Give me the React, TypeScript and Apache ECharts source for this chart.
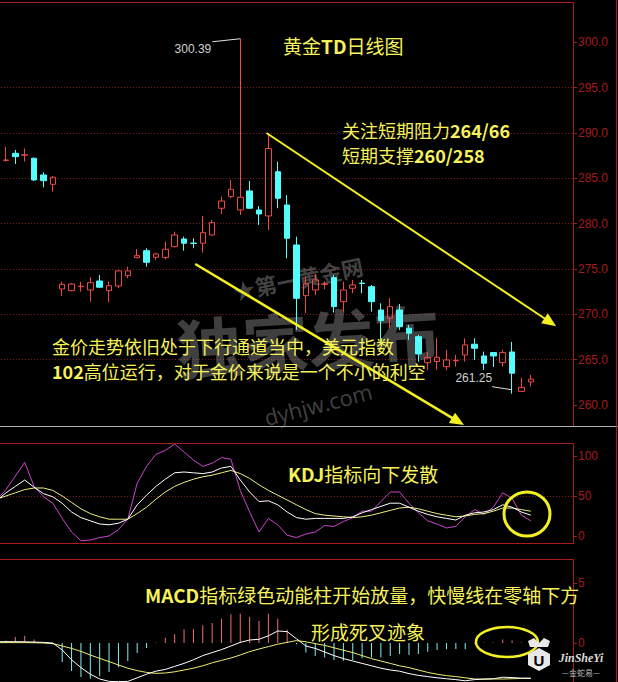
import React, { useEffect, useRef } from "react";
import * as echarts from "echarts";

// ---------- data ----------
// 62 daily slots: 58 candles + 4 empty slots on the right
const categories: string[] = Array.from({ length: 62 }, (_, i) => `D${i + 1}`);

// [open, close, low, high]
const candles: number[][] = [
  [285.1, 286.8, 284.9, 287.1],
  [286.98, 287.02, 286.84, 288.49],
  [287.76, 287.39, 286.58, 288.13],
  [287.55, 287.6, 286.85, 288.3],
  [287.21, 284.82, 284.7, 287.3],
  [285.37, 284.74, 284.01, 285.67],
  [284.34, 285.12, 283.53, 285.26],
  [272.8, 273.32, 272.03, 273.61],
  [272.61, 273.35, 272.55, 273.45],
  [273.05, 273.1, 272.5, 273.6],
  [272.69, 273.49, 271.4, 274.09],
  [273.68, 272.99, 272.95, 274.34],
  [272.61, 273.16, 271.33, 273.61],
  [273.13, 274.79, 272.88, 274.85],
  [274.27, 274.79, 273.98, 275.26],
  [276.25, 276.47, 276.2, 277.21],
  [277.02, 275.74, 275.26, 277.29],
  [276.3, 276.66, 276.0, 276.8],
  [276.25, 277.18, 276.07, 278.02],
  [277.46, 278.75, 277.4, 279.12],
  [278.31, 277.84, 277.02, 278.57],
  [277.86, 277.82, 277.29, 278.39],
  [277.84, 279.01, 276.8, 280.85],
  [278.75, 280.11, 278.7, 280.41],
  [281.7, 282.5, 281.07, 282.98],
  [282.98, 283.79, 282.8, 284.82],
  [281.51, 282.91, 280.96, 300.39],
  [283.61, 281.7, 281.65, 284.71],
  [281.51, 281.07, 279.86, 281.95],
  [280.85, 288.29, 279.3, 289.78],
  [285.73, 282.8, 281.7, 286.84],
  [282.06, 278.39, 276.18, 283.16],
  [277.65, 271.77, 268.28, 278.57],
  [272.06, 273.35, 270.12, 274.16],
  [272.69, 273.79, 272.14, 274.45],
  [273.3, 273.35, 272.77, 273.61],
  [274.05, 270.85, 270.19, 274.34],
  [271.4, 272.69, 270.3, 273.61],
  [272.88, 273.24, 272.33, 273.79],
  [273.45, 273.4, 272.33, 273.79],
  [273.05, 271.4, 270.3, 273.24],
  [270.48, 269.31, 266.81, 271.22],
  [269.57, 270.85, 268.47, 271.77],
  [270.48, 268.64, 268.28, 271.15],
  [268.47, 267.92, 267.18, 268.83],
  [267.54, 265.63, 264.79, 267.73],
  [264.67, 265.23, 263.87, 265.89],
  [264.79, 265.27, 263.87, 267.36],
  [264.23, 264.97, 263.87, 266.08],
  [264.88, 264.92, 264.23, 265.52],
  [265.52, 266.63, 264.79, 267.36],
  [266.7, 266.26, 264.97, 267.36],
  [265.41, 264.61, 263.87, 265.89],
  [265.78, 265.41, 264.2, 265.85],
  [264.67, 265.78, 264.23, 266.08],
  [265.85, 263.51, 261.25, 266.96],
  [261.5, 261.95, 261.45, 262.99],
  [262.55, 262.85, 262.03, 263.32],
];

const kLine = [44, 54, 62, 70, 61, 53, 49, 41, 30, 23, 19, 15, 14, 16, 21, 39, 51, 62, 71, 79, 80, 79, 78, 80, 85, 87, 70, 55, 43, 44, 39, 30, 23, 21, 22, 22, 22, 22, 24, 29, 33, 37, 41, 41, 36, 31, 27, 24, 22, 20, 26, 29, 30, 33, 39, 36, 30, 26];
const dLine = [46, 50, 54, 58, 60, 60, 57, 50, 42, 34, 28, 24, 21, 21, 21, 28, 36, 46, 55, 62, 67, 71, 74, 76, 79, 82, 78, 72, 64, 57, 51, 45, 39, 33, 28, 26, 25, 24, 23, 24, 26, 29, 32, 35, 36, 34, 31, 28, 26, 24, 25, 27, 28, 31, 35, 35, 33, 31];
const jLine = [45, 58, 75, 92, 62, 49, 41, 22, 5, -6, -5, -2, 0, 8, 21, 66, 87, 102, 107, 115, 105, 95, 87, 91, 98, 96, 57, 30, 5, 22, 14, 1, -2, 2.5, 5, 13, 12, 18, 23, 31, 31, 43, 55, 55, 41, 29, 19, 15, 10, 12, 24, 33, 27, 36, 54, 47, 26, 19];

const macdHist = [0.1, 0.2, 0.5, 0.6, 0.3, 0.05, -0.1, -1.58, -2.33, -2.83, -2.97, -2.78, -2.42, -2.0, -1.5, -0.83, -0.42, 0.05, 0.44, 0.72, 1.14, 1.17, 1.47, 1.67, 2.03, 2.39, 2.44, 2.17, 1.83, 2.44, 2.03, 1.11, -0.1, -0.8, -1.08, -1.2, -1.42, -1.47, -1.42, -1.28, -1.2, -1.2, -1.08, -0.92, -1.0, -0.92, -0.72, -0.58, -0.53, -0.5, -0.53, -0.05, 0.05, 0.05, 0.3, 0.2, 0.05, 0.05];
const difLine = [0.11, 0.11, 0.11, 0.1, 0.08, 0.05, 0.0, -0.58, -1.4, -2.05, -2.6, -3.0, -3.2, -3.22, -3.2, -2.9, -2.6, -2.35, -2.2, -1.95, -1.7, -1.4, -1.05, -0.8, -0.55, -0.25, 0.05, 0.25, 0.31, 0.6, 1.0, 0.95, 0.35, -0.25, -0.45, -0.75, -1.05, -1.3, -1.5, -1.7, -1.9, -2.1, -2.25, -2.35, -2.55, -2.7, -2.8, -2.9, -2.98, -3.05, -3.15, -3.05, -3.0, -2.98, -2.85, -2.88, -2.93, -2.93];
const deaLine = [0.03, 0.03, 0.03, 0.03, 0.02, 0.0, -0.05, -0.25, -0.45, -0.7, -1.0, -1.28, -1.55, -1.83, -2.1, -2.3, -2.45, -2.53, -2.5, -2.4, -2.25, -2.1, -1.9, -1.65, -1.45, -1.25, -1.0, -0.72, -0.5, -0.3, -0.1, 0.05, 0.2, 0.1, -0.05, -0.2, -0.4, -0.6, -0.8, -1.05, -1.3, -1.5, -1.7, -1.9, -2.05, -2.25, -2.45, -2.6, -2.72, -2.8, -2.9, -3.0, -3.02, -3.0, -3.0, -2.98, -2.95, -2.95];

const priceTicks = [260, 265, 270, 275, 280, 285, 290, 295, 300];
const kdjTicks = [0, 50, 100];
const macdTicks = [0, 5];

// annotation anchors in data space: [slot index, value]
const highMark = { index: 26, value: 300.39, label: "300.39" };
const lowMark = { index: 55, value: 261.25, label: "261.25" };
const upperArrow = [[28.8, 290.0], [59.7, 268.7]];
const lowerArrow = [[21.2, 275.55], [49.87, 257.8]];
const kdjCircle = [56.59, 27.5];
const macdCircle = [54.45, 0.08];

// ---------- style ----------
const RED = "#ee4848";
const CYAN = "#54fcfc";
const FRAME = "#a81c1c";
const LABEL = "#a51a1c";
const DOT = "#842020";
const TXT = "#f6f25a";
const YEL = "#f4f020";
const CJK = '"Noto Sans CJK SC", "Noto Sans", sans-serif';
const LAT = '"Liberation Sans", Arial, sans-serif';

// the chart canvas starts OFF px left of the page so the first candle is cut
const OFF = 9;
const X = (x: number) => x + OFF;
const GL = -8.1 + OFF;
const GW = 581.1;

export default function App() {
  const ref = useRef<HTMLDivElement>(null);

  useEffect(() => {
    if (!ref.current) return;
    const chart = echarts.init(ref.current, undefined, { renderer: "svg" });

    const xAxisBase = (gi: number) => ({
      type: "category",
      gridIndex: gi,
      data: categories,
      boundaryGap: true,
      axisLine: { show: false },
      axisTick: { show: false },
      axisLabel: { show: false },
      splitLine: { show: false },
    });

    const yAxisBase = (gi: number, min: number, max: number, interval: number, ticks: number[], fmt: (v: number) => string, pad: number[]) => ({
      type: "value",
      gridIndex: gi,
      position: "right",
      min,
      max,
      interval,
      axisLine: { show: false },
      axisTick: { show: true, length: 4, customValues: ticks, lineStyle: { color: FRAME, width: 1 } },
      axisLabel: {
        customValues: ticks,
        formatter: fmt,
        color: LABEL,
        fontSize: 12,
        fontFamily: LAT,
        margin: 5,
        padding: pad,
      },
      splitLine: {
        show: true,
        showMinLine: false,
        showMaxLine: false,
        lineStyle: { color: DOT, type: [1, 2], width: 1 },
      },
    });

    chart.setOption({
      animation: false,
      backgroundColor: "#000000",
      grid: [
        { left: GL, width: GW, top: -3.04, height: 453.4, outerBoundsMode: "none" },
        { left: GL, width: GW, top: 416, height: 160, outerBoundsMode: "none" },
        { left: GL, width: GW, top: 523, height: 180, outerBoundsMode: "none" },
      ],
      xAxis: [xAxisBase(0), xAxisBase(1), xAxisBase(2)],
      yAxis: [
        yAxisBase(0, 255, 305, 5, priceTicks, (v: number) => v.toFixed(1), [0, 0, 0, 0]),
        yAxisBase(1, -50, 150, 50, kdjTicks, (v: number) => `${v}`, [5, 0, 0, 0]),
        yAxisBase(2, -5, 10, 5, macdTicks, (v: number) => `${v}`, [0, 0, 0, 0]),
      ],
      series: [
        {
          type: "candlestick",
          xAxisIndex: 0,
          yAxisIndex: 0,
          data: candles,
          barWidth: 6,
          silent: true,
          itemStyle: {
            color: "transparent",
            color0: CYAN,
            borderColor: RED,
            borderColor0: CYAN,
            borderWidth: 1,
          },
        },
        { type: "line", xAxisIndex: 1, yAxisIndex: 1, data: jLine, showSymbol: false, silent: true, lineStyle: { color: "#cc44cc", width: 1 } },
        { type: "line", xAxisIndex: 1, yAxisIndex: 1, data: dLine, showSymbol: false, silent: true, lineStyle: { color: "#eeee80", width: 1 } },
        { type: "line", xAxisIndex: 1, yAxisIndex: 1, data: kLine, showSymbol: false, silent: true, lineStyle: { color: "#ffffff", width: 1 } },
        {
          type: "bar",
          xAxisIndex: 2,
          yAxisIndex: 2,
          data: macdHist,
          barWidth: 1,
          silent: true,
          itemStyle: { color: (p: any) => (p.value >= 0 ? "#f07070" : "#7ef0f0") },
        },
        { type: "line", xAxisIndex: 2, yAxisIndex: 2, data: deaLine, showSymbol: false, silent: true, z: 3, lineStyle: { color: "#eeee70", width: 1 } },
        { type: "line", xAxisIndex: 2, yAxisIndex: 2, data: difLine, showSymbol: false, silent: true, z: 3, lineStyle: { color: "#ffffff", width: 1 } },
      ],
    });

    const px = (gi: number, i: number, v: number): number[] => {
      const i0 = Math.floor(i);
      const a = chart.convertToPixel({ gridIndex: gi }, [i0, v]) as number[];
      const b = chart.convertToPixel({ gridIndex: gi }, [i0 + 1, v]) as number[];
      return [a[0] + (b[0] - a[0]) * (i - i0), a[1]];
    };

    const ln = (x1: number, y1: number, x2: number, y2: number, stroke: string, lw = 1, z = 50) => ({
      type: "line",
      silent: true,
      z,
      shape: { x1, y1, x2, y2 },
      style: { stroke, lineWidth: lw },
    });

    const arrow = (p0: number[], p1: number[], lw: number, headLen: number, headHalf: number) => {
      const dx = p1[0] - p0[0];
      const dy = p1[1] - p0[1];
      const len = Math.hypot(dx, dy);
      const ux = dx / len;
      const uy = dy / len;
      const bx = p1[0] - ux * headLen;
      const by = p1[1] - uy * headLen;
      const nx = -uy;
      const ny = ux;
      return [
        ln(p0[0], p0[1], bx + ux * 2, by + uy * 2, YEL, lw, 70),
        {
          type: "polygon",
          silent: true,
          z: 70,
          shape: { points: [[p1[0], p1[1]], [bx + nx * headHalf, by + ny * headHalf], [bx - nx * headHalf, by - ny * headHalf]] },
          style: { fill: YEL },
        },
      ];
    };

    const txt = (x: number, y: number, text: string, size = 18) => ({
      type: "text",
      silent: true,
      z: 80,
      x: X(x),
      y,
      style: {
        text,
        fill: TXT,
        fontSize: size,
        fontFamily: CJK,
        lineHeight: 19,
        align: "left",
        verticalAlign: "middle",
        rich: { b: { fontWeight: "bold", fontSize: size, fontFamily: CJK, fill: TXT, lineHeight: 19 } },
      },
    });

    const hp = px(0, highMark.index, highMark.value);
    const lp = px(0, lowMark.index, lowMark.value);
    const ua0 = px(0, upperArrow[0][0], upperArrow[0][1]);
    const ua1 = px(0, upperArrow[1][0], upperArrow[1][1]);
    const la0 = px(0, lowerArrow[0][0], lowerArrow[0][1]);
    const la1 = px(0, lowerArrow[1][0], lowerArrow[1][1]);
    const kc = px(1, kdjCircle[0], kdjCircle[1]);
    const mc = px(2, macdCircle[0], macdCircle[1]);

    const graphic: any[] = [
      // watermarks
      {
        type: "text", silent: true, z: 1, x: X(308), y: 338, rotation: 0.06,
        style: { text: "独家发布", fill: "rgba(150,150,150,0.42)", fontSize: 66, fontWeight: "bold", fontFamily: CJK, align: "center", verticalAlign: "middle" },
      },
      {
        type: "text", silent: true, z: 1, x: X(298), y: 278, rotation: 0.2,
        style: { text: "★第一黄金网", fill: "rgba(150,150,150,0.45)", fontSize: 22, fontWeight: "bold", fontFamily: CJK, align: "center", verticalAlign: "middle" },
      },
      {
        type: "text", silent: true, z: 1, x: X(318), y: 404, rotation: 0.25,
        style: { text: "dyhjw.com", fill: "rgba(150,150,150,0.45)", fontSize: 22, fontFamily: '"Open Sans", sans-serif', align: "center", verticalAlign: "middle" },
      },
      // panel frames
      ln(X(0), 2.5, X(573.5), 2.5, FRAME),
      ln(X(573.5), 2.5, X(573.5), 426, FRAME),
      ln(X(0), 426.5, X(618), 426.5, "#b4b4b4"),
      ln(X(0), 443.5, X(573.5), 443.5, FRAME),
      ln(X(573.5), 443.5, X(573.5), 543.5, FRAME),
      ln(X(0), 543.5, X(573.5), 543.5, FRAME),
      ln(X(0), 559.5, X(573.5), 559.5, FRAME),
      ln(X(573.5), 559.5, X(573.5), 682, FRAME),
      ln(X(616.5), 0, X(616.5), 682, FRAME),
      // high / low callouts
      ln(hp[0] - 28, hp[1] + 3, hp[0], hp[1], "#e0e0e0", 1, 60),
      {
        type: "text", silent: true, z: 60, x: hp[0] - 29, y: hp[1] + 10,
        style: { text: highMark.label, fill: "#d0d0d0", fontSize: 12, fontFamily: LAT, align: "right", verticalAlign: "middle" },
      },
      ln(lp[0] - 20, lp[1] - 7, lp[0] - 1, lp[1] - 4, "#e0e0e0", 1, 60),
      {
        type: "text", silent: true, z: 60, x: lp[0] - 20, y: lp[1] - 16,
        style: { text: lowMark.label, fill: "#d0d0d0", fontSize: 12, fontFamily: LAT, align: "right", verticalAlign: "middle" },
      },
      // arrows
      ...arrow(ua0, ua1, 2, 14, 6),
      ...arrow(la0, la1, 2.5, 14, 6),
      // ellipses
      { type: "ellipse", silent: true, z: 70, shape: { cx: kc[0], cy: kc[1], rx: 23, ry: 22 }, style: { fill: "none", stroke: YEL, lineWidth: 3 } },
      { type: "ellipse", silent: true, z: 70, shape: { cx: mc[0], cy: mc[1], rx: 31, ry: 15 }, style: { fill: "none", stroke: YEL, lineWidth: 2.5 } },
      // texts
      txt(283, 45, "黄金{b|TD}日线图", 19),
      txt(342, 130, "关注短期阻力{b|264/66}"),
      txt(342, 155, "短期支撑{b|260/258}"),
      txt(52, 346, "金价走势依旧处于下行通道当中，美元指数"),
      txt(52, 371, "{b|102}高位运行，对于金价来说是一个不小的利空"),
      txt(288, 473, "{b|KDJ}指标向下发散", 19),
      txt(145, 594, "{b|MACD}指标绿色动能柱开始放量，快慢线在零轴下方", 19),
      txt(311, 631, "形成死叉迹象", 19),
      // logo
      {
        type: "polygon", silent: true, z: 90,
        shape: { points: [[X(528), 641], [X(534), 638], [X(539), 643], [X(544), 638], [X(550), 641], [X(548), 647], [X(530), 647]] },
        style: { fill: "#e8e8e8" },
      },
      {
        type: "polygon", silent: true, z: 90,
        shape: { points: [[X(539), 648], [X(550), 654], [X(550), 665], [X(539), 671], [X(528), 665], [X(528), 654]] },
        style: { fill: "#e8e8e8" },
      },
      {
        type: "text", silent: true, z: 91, x: X(539), y: 660,
        style: { text: "U", fill: "#000000", fontSize: 15, fontWeight: "bold", fontFamily: LAT, align: "center", verticalAlign: "middle" },
      },
      {
        type: "text", silent: true, z: 90, x: X(581), y: 658,
        style: { text: "JinSheYi", fill: "#d8d8d8", fontSize: 12, fontStyle: "italic", fontWeight: "bold", fontFamily: '"Liberation Serif", serif', align: "center", verticalAlign: "middle" },
      },
      {
        type: "text", silent: true, z: 90, x: X(581), y: 672,
        style: { text: "—金蛇易—", fill: "#bcbcbc", fontSize: 8, fontFamily: CJK, align: "center", verticalAlign: "middle" },
      },
    ];

    chart.setOption({ graphic });

    return () => {
      chart.dispose();
    };
  }, []);

  return (
    <div
      ref={ref}
      style={{ position: "fixed", left: -OFF, top: 0, width: 618 + OFF, height: 682, background: "#000000" }}
    />
  );
}
